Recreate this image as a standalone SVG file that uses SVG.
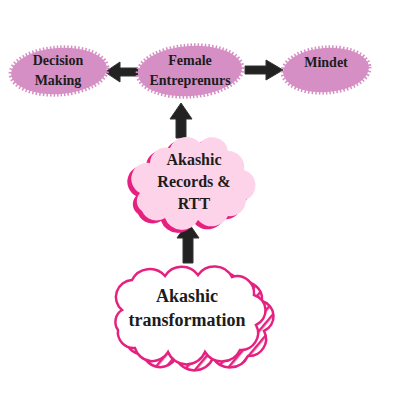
<svg xmlns="http://www.w3.org/2000/svg" width="400" height="400" viewBox="0 0 400 400">
<defs>
<style>
.lbl{font-family:"Liberation Serif","Times New Roman",serif;font-weight:bold;fill:#1c1c1c;text-anchor:middle}
.blob{fill:#d68fc4;stroke:#d68fc4;stroke-width:5;stroke-dasharray:1.5 2}
.arrow{fill:#222;stroke:#333;stroke-width:1}
</style>
<pattern id="stripes" patternUnits="userSpaceOnUse" width="8" height="8" patternTransform="rotate(40)">
<rect width="8" height="8" fill="#fff"/>
<rect width="2.5" height="8" fill="#e6207f"/>
</pattern>
<path id="cloudB" d="M 122 310 A 17 17 0 0 1 132 280 A 20 20 0 0 1 165 276 A 20 20 0 0 1 198 275 A 20 20 0 0 1 232 277 A 17 17 0 0 1 254 295 A 16 16 0 0 1 256 325 A 17 17 0 0 1 240 350 A 20 20 0 0 1 205 352 A 20 20 0 0 1 168 352 A 18 18 0 0 1 135 348 A 16 16 0 0 1 118 330 A 14 14 0 0 1 122 310 Z"/>
<path id="cloudR" d="M 140 193 A 16 16 0 0 1 150 163 A 16 16 0 0 1 170 148 A 18 18 0 0 1 200 143 A 16 16 0 0 1 228 151 A 16 16 0 0 1 244 170 A 16 16 0 0 1 246 200 A 16 16 0 0 1 228 216 A 18 18 0 0 1 198 220 A 18 18 0 0 1 165 218 A 16 16 0 0 1 142 211 A 12 12 0 0 1 140 193 Z"/>
</defs>
<rect width="400" height="400" fill="#fff"/>

<g id="connectors">
<path class="arrow" d="M105,72 L120,62 L120,68 L138,68 L138,76 L120,76 L120,82 Z"/>
<path class="arrow" d="M283,70 L266,60 L266,66 L245,66 L245,74 L266,74 L266,80 Z"/>
<path class="arrow" d="M181,103 L192,119 L186,119 L186,138 L176,138 L176,119 L170,119 Z"/>
<path class="arrow" d="M188,222 L199,238 L193,238 L193,263 L183,263 L183,238 L177,238 Z"/>
</g>

<g id="decision-making">
<ellipse class="blob" cx="59" cy="71" rx="48" ry="23" transform="rotate(-4 59 71)"/>
<text class="lbl" x="58" y="65" font-size="14">Decision</text>
<text class="lbl" x="58" y="85" font-size="14">Making</text>
</g>

<g id="female-entreprenurs">
<ellipse class="blob" cx="190" cy="71" rx="52" ry="25" transform="rotate(-4 190 71)"/>
<text class="lbl" x="190" y="65" font-size="14">Female</text>
<text class="lbl" x="190" y="85" font-size="14">Entreprenurs</text>
</g>

<g id="mindet">
<ellipse class="blob" cx="326" cy="70" rx="43" ry="22" transform="rotate(-4 326 70)"/>
<text class="lbl" x="326" y="67" font-size="14">Mindet</text>
</g>

<g id="akashic-records">
<use href="#cloudR" transform="translate(-4 3)" fill="#e6207f"/>
<use href="#cloudR" fill="#fdd3ea"/>
<text class="lbl" x="194" y="165" font-size="16">Akashic</text>
<text class="lbl" x="194" y="187" font-size="16">Records &amp;</text>
<text class="lbl" x="194" y="209" font-size="16">RTT</text>
</g>

<g id="akashic-transformation">
<use href="#cloudB" transform="translate(8 6)" fill="url(#stripes)" stroke="#e6207f" stroke-width="2.5"/>
<use href="#cloudB" fill="#fff" stroke="#e6207f" stroke-width="2.5"/>
<text class="lbl" x="187" y="302" font-size="18">Akashic</text>
<text class="lbl" x="187" y="326" font-size="18">transformation</text>
</g>
</svg>
